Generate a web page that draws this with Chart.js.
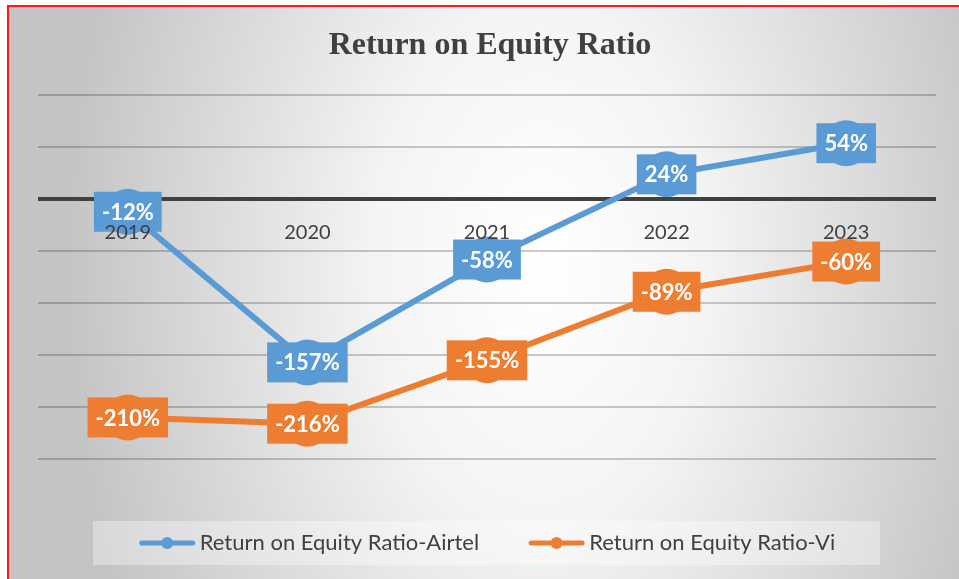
<!DOCTYPE html>
<html>
<head>
<meta charset="utf-8">
<script src="https://cdn.jsdelivr.net/npm/chart.js@4.4.1/dist/chart.umd.min.js"></script>
<style>
html, body { margin: 0; padding: 0; background: #fff; }
#wrap {
  position: absolute; left: 7px; top: 5px;
  width: 950px; height: 572px;
  border-left: 2px solid #ff1a1a; border-top: 2px solid #ff1a1a;
  background: radial-gradient(ellipse 50% 130% at 56% 45%, #ffffff 0%, #f4f4f4 35%, #c4c4c4 100%);
}
canvas { display: block; }
</style>
</head>
<body>
<div id="wrap"><canvas id="myChart" width="950" height="572"></canvas></div>
<script>
const years = ['2019', '2020', '2021', '2022', '2023'];
const airtel = [-12, -157, -58, 24, 54];
const vi = [-210, -216, -155, -89, -60];
const seriesNames = ['Return on Equity Ratio-Airtel', 'Return on Equity Ratio-Vi'];

const BLUE = '#5B9BD5';
const ORANGE = '#ED7D31';
const TEXT = '#404040';

// boxed value labels sitting on top of the markers
const boxLabels = {
  id: 'boxLabels',
  afterDatasetsDraw(chart) {
    const ctx = chart.ctx;
    ctx.save();
    ctx.font = 'bold 22px Lato';
    ctx.textAlign = 'center';
    ctx.textBaseline = 'middle';
    chart.data.datasets.forEach((ds, i) => {
      chart.getDatasetMeta(i).data.forEach((pt, j) => {
        const txt = ds.data[j] + '%';
        const w = ctx.measureText(txt).width + 16;
        const h = 40;
        ctx.fillStyle = ds.borderColor;
        ctx.fillRect(pt.x - w / 2, pt.y - h / 2, w, h);
        ctx.fillStyle = '#fff';
        ctx.fillText(txt, pt.x, pt.y + 1);
      });
    });
    ctx.restore();
  }
};

// excel style legend: line + dot, inside a light box
const boxLegend = {
  id: 'boxLegend',
  afterDraw(chart) {
    const ctx = chart.ctx;
    const cx = (chart.chartArea.left + chart.chartArea.right) / 2;
    const cy = 536;
    ctx.save();
    ctx.fillStyle = 'rgba(255,255,255,0.35)';
    ctx.fillRect(cx - 394, cy - 22, 787, 44);
    ctx.font = '22px Lato';
    ctx.textBaseline = 'middle';
    const sym = 57, gap = 4, space = 49;
    const items = chart.data.datasets.map(ds => ({ ds, w: ctx.measureText(ds.label).width }));
    let total = items.reduce((s, it) => s + sym + gap + it.w, 0) + space * (items.length - 1);
    let x = cx - total / 2;
    items.forEach(it => {
      ctx.strokeStyle = it.ds.borderColor;
      ctx.lineWidth = 5;
      ctx.lineCap = 'round';
      ctx.beginPath();
      ctx.moveTo(x + 3, cy);
      ctx.lineTo(x + sym - 3, cy);
      ctx.stroke();
      ctx.fillStyle = it.ds.borderColor;
      ctx.beginPath();
      ctx.arc(x + sym / 2, cy, 6, 0, Math.PI * 2);
      ctx.fill();
      ctx.fillStyle = TEXT;
      ctx.fillText(it.ds.label, x + sym + gap, cy);
      x += sym + gap + it.w + space;
    });
    ctx.restore();
  }
};

const ctx = document.getElementById('myChart');
new Chart(ctx, {
  type: 'line',
  data: {
    labels: years,
    datasets: [{
      label: seriesNames[0],
      data: airtel,
      borderColor: BLUE,
      backgroundColor: BLUE,
      borderWidth: 6,
      pointRadius: 23,
      pointHoverRadius: 23,
      pointBorderWidth: 0
    },
    {
      label: seriesNames[1],
      data: vi,
      borderColor: ORANGE,
      backgroundColor: ORANGE,
      borderWidth: 6,
      pointRadius: 23,
      pointHoverRadius: 23,
      pointBorderWidth: 0
    }]
  },
  options: {
    responsive: false,
    animation: false,
    layout: { padding: { left: 29, right: 17, top: 0, bottom: 120 } },
    plugins: {
      legend: { display: false },
      tooltip: { enabled: false },
      title: {
        display: true,
        text: 'Return on Equity Ratio',
        color: TEXT,
        font: { family: 'Liberation Serif', size: 32, weight: 'bold' },
        padding: { top: 20, bottom: 30 }
      }
    },
    scales: {
      x: {
        type: 'category',
        offset: true,
        position: { y: 0 },
        grid: { display: false, drawTicks: false },
        border: { display: false },
        ticks: { color: TEXT, font: { family: 'Lato', size: 20 }, padding: 21, z: 1 }
      },
      y: {
        min: -250,
        max: 100,
        ticks: { stepSize: 50, display: false },
        border: { display: false },
        grid: {
          drawTicks: false,
          color: c => c.tick.value === 0 ? TEXT : 'rgba(0,0,0,0.2)',
          lineWidth: c => c.tick.value === 0 ? 4 : 2
        }
      }
    }
  },
  plugins: [boxLabels, boxLegend]
});
</script>
</body>
</html>
